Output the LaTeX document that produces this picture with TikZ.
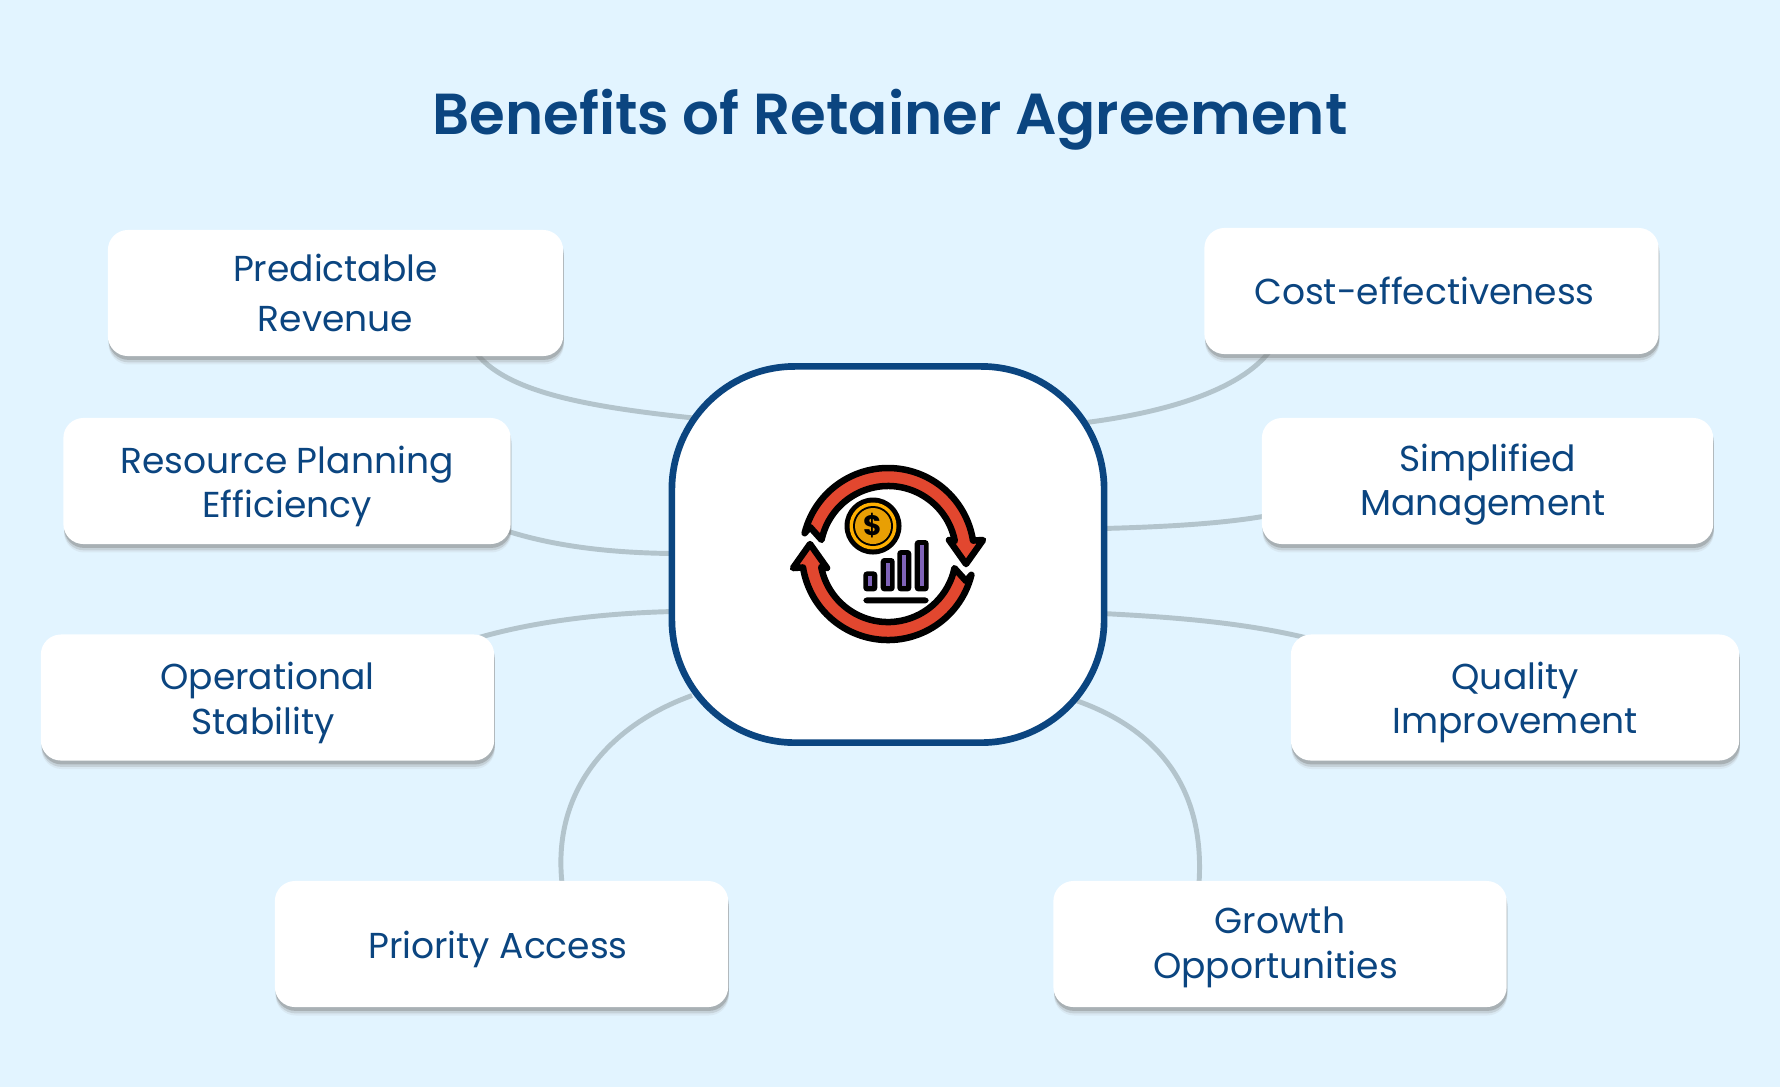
\documentclass[tikz,border=0pt]{standalone}
\usepackage{fontspec}
\setmainfont{Poppins}
\newfontfamily\titlefont{Poppins SemiBold}
\usetikzlibrary{shadows,backgrounds}
\definecolor{bgblue}{HTML}{E2F4FF}
\definecolor{navy}{HTML}{0B4580}
\definecolor{linkgray}{HTML}{B3C4CC}
\definecolor{arrowred}{HTML}{E2472F}
\definecolor{coinrim}{HTML}{FFB000}
\definecolor{coinfill}{HTML}{E89F04}
\definecolor{barpurple}{HTML}{7F63B8}
\tikzset{
	benefit/.style={draw=none, fill=white, rounded corners=5.7pt, minimum height=1.26cm, minimum width=4.53cm, inner sep=0pt, align=center, text=navy, font=\fontsize{10.25}{12.6}\selectfont,
		drop shadow={shadow xshift=0.2pt, shadow yshift=-2.4pt, fill=black!40, opacity=0.12},
		drop shadow={shadow xshift=0.2pt, shadow yshift=-1.8pt, fill=black!50, opacity=0.22},
		drop shadow={shadow xshift=0.2pt, shadow yshift=-1.1pt, fill=black!55, opacity=0.35}},
	lowered/.style={execute at begin node={\rule{0pt}{#1}}},
	link/.style={draw=linkgray, line width=1.4pt},
	loopblade/.style={draw=black, fill=arrowred, line width=1.85pt, line join=round}
}
\begin{document}
\begin{tikzpicture}[x=0.01cm, y=-0.01cm]
	\useasboundingbox (0, 0) rectangle (1780, 1087);
	\node[text=navy, font=\titlefont\fontsize{16.45}{20}\selectfont] (title) at (890, 120) {Benefits of Retainer Agreement};
	\node[draw=navy, fill=white, line width=1.9pt, rounded corners=35pt, minimum width=4.32cm, minimum height=3.76cm] (hub) at (888, 554.5) {};
	\node[benefit, minimum width=4.55cm] (predictable) at (335.5, 293) {Predictable\\[1.6pt]Revenue};
	\node[benefit, minimum width=4.54cm] (cost) at (1431.5, 291) {Cost-effectiveness\kern 4pt};
	\node[benefit, lowered=23.4pt, minimum width=4.47cm] (resource) at (287, 481) {Resource Planning\\Efficiency};
	\node[benefit, lowered=22.4pt, minimum width=4.51cm] (simplified) at (1487.5, 481) {Simplified\\Management\kern 2.6pt};
	\node[benefit, lowered=23.4pt] (operational) at (267.5, 697.5) {Operational\\Stability\kern 2.6pt};
	\node[benefit, lowered=23.4pt, minimum width=4.48cm] (quality) at (1515, 697.5) {Quality\\Improvement};
	\node[benefit, lowered=10.8pt] (priority) at (501.5, 944) {Priority Access\kern 2pt};
	\node[benefit, lowered=22pt] (growth) at (1280, 944) {Growth\\Opportunities\kern 2.6pt};
	\begin{scope}[on background layer]
		\fill[bgblue] (0, 0) rectangle (1780, 1087);
		\draw[link] ([shift={(141.5, 61)}]predictable.center) .. controls (510, 395) and (600, 408) .. ([shift={(-190, -136)}]hub.center);
		\draw[link] ([shift={(-162.5, 61)}]cost.center) .. controls (1235, 395) and (1150, 415) .. ([shift={(190, -131)}]hub.center);
		\draw[link] ([shift={(220, 50)}]resource.center) .. controls (560, 548) and (620, 553) .. ([shift={(-215, -1)}]hub.center);
		\draw[link] ([shift={(-222, 35)}]simplified.center) .. controls (1220, 524) and (1160, 527) .. ([shift={(215, -26)}]hub.center);
		\draw[link] ([shift={(211.5, -60)}]operational.center) .. controls (540, 620) and (610, 613) .. ([shift={(-215, 57)}]hub.center);
		\draw[link] ([shift={(-210, -60)}]quality.center) .. controls (1240, 622) and (1170, 617) .. ([shift={(215, 59)}]hub.center);
		\draw[link] ([shift={(60.5, -61)}]priority.center) .. controls (552, 790) and (610, 725) .. ([shift={(-196, 141)}]hub.center);
		\draw[link] ([shift={(-81, -61)}]growth.center) .. controls (1205, 790) and (1160, 730) .. ([shift={(188, 146)}]hub.center);
	\end{scope}
	\begin{scope}[shift={(888, 554)}, y=0.01cm]
		\foreach \turn in {0, 180} {
			\draw[loopblade, rotate=\turn] (-83.4, 20.8) arc[start angle=166, end angle=9, radius=86] -- (95, 14) -- (78, -10) -- (61, 14) -- (66.8, 13) arc[start angle=11, end angle=168, radius=68] -- (-78, 27) -- cycle;
		}
		\fill[black] (-15, 28) circle (28.5);
		\fill[coinrim] (-15, 28) circle (23.5);
		\fill[black] (-15, 28) circle (20);
		\node[fill=coinfill, circle, minimum size=0.36cm, inner sep=0pt, text=black, font=\bfseries\fontsize{8}{8}\selectfont] (coin) at (-15, 28) {\$};
		\foreach \barx/\bartop in {-17.7/-17.4, -0.3/-4, 16.3/4, 33.7/14} {
			\fill[black, rounded corners=1pt] (\barx-7, \bartop) rectangle (\barx+7, -37.4);
			\fill[barpurple] (\barx-2, \bartop-5) rectangle (\barx+2, -32.4);
		}
		\fill[black, rounded corners=1pt] (-24.7, -43.4) rectangle (40.7, -49.4);
	\end{scope}
\end{tikzpicture}
\end{document}
